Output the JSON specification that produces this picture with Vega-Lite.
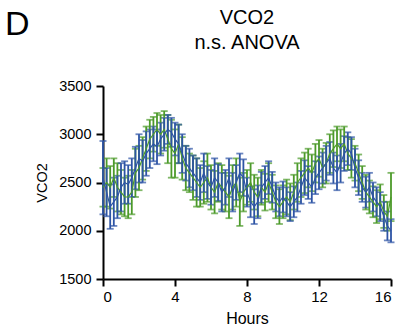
{
  "$schema": "https://vega.github.io/schema/vega-lite/v6.json",
  "width": 288,
  "height": 193,
  "autosize": {"type": "none"},
  "padding": {"left": 103, "top": 86, "right": 11, "bottom": 50},
  "background": "white",
  "title": {"text": ["VCO2", "n.s. ANOVA"], "anchor": "middle", "font": "Liberation Sans", "fontSize": 20, "fontWeight": "normal", "lineHeight": 25, "color": "black", "offset": -45},
  "config": {
    "view": {"stroke": null},
    "axis": {"domainColor": "black", "domainWidth": 2, "tickColor": "black", "tickWidth": 2, "tickSize": 7, "grid": false, "labelFont": "Liberation Sans", "labelFontSize": 14.5, "labelColor": "black", "titleFont": "Liberation Sans", "titleFontSize": 15, "titleFontWeight": "normal", "titleColor": "black"}
  },
  "data": {"values": [
    {"h":0,"g":"G","m":2450,"e":200},{"h":0.2,"g":"G","m":2500,"e":250},{"h":0.4,"g":"G","m":2450,"e":220},{"h":0.6,"g":"G","m":2550,"e":200},{"h":0.8,"g":"G","m":2450,"e":250},
    {"h":1,"g":"G","m":2400,"e":230},{"h":1.2,"g":"G","m":2350,"e":200},{"h":1.4,"g":"G","m":2350,"e":220},{"h":1.6,"g":"G","m":2400,"e":230},{"h":1.8,"g":"G","m":2600,"e":250},
    {"h":2,"g":"G","m":2650,"e":230},{"h":2.2,"g":"G","m":2750,"e":220},{"h":2.4,"g":"G","m":2850,"e":230},{"h":2.6,"g":"G","m":2950,"e":200},{"h":2.8,"g":"G","m":3000,"e":180},
    {"h":3,"g":"G","m":3050,"e":170},{"h":3.2,"g":"G","m":3000,"e":200},{"h":3.4,"g":"G","m":3050,"e":190},{"h":3.6,"g":"G","m":2950,"e":250},{"h":3.8,"g":"G","m":2850,"e":300},
    {"h":4,"g":"G","m":2800,"e":250},{"h":4.2,"g":"G","m":2900,"e":200},{"h":4.4,"g":"G","m":2750,"e":220},{"h":4.6,"g":"G","m":2650,"e":230},{"h":4.8,"g":"G","m":2600,"e":200},
    {"h":5,"g":"G","m":2550,"e":230},{"h":5.2,"g":"G","m":2500,"e":250},{"h":5.4,"g":"G","m":2450,"e":200},{"h":5.6,"g":"G","m":2500,"e":220},{"h":5.8,"g":"G","m":2550,"e":250},
    {"h":6,"g":"G","m":2450,"e":230},{"h":6.2,"g":"G","m":2400,"e":220},{"h":6.4,"g":"G","m":2500,"e":200},{"h":6.6,"g":"G","m":2450,"e":230},{"h":6.8,"g":"G","m":2400,"e":200},
    {"h":7,"g":"G","m":2350,"e":220},{"h":7.2,"g":"G","m":2450,"e":230},{"h":7.4,"g":"G","m":2500,"e":250},{"h":7.6,"g":"G","m":2300,"e":250},{"h":7.8,"g":"G","m":2400,"e":200},
    {"h":8,"g":"G","m":2450,"e":180},{"h":8.2,"g":"G","m":2500,"e":200},{"h":8.4,"g":"G","m":2400,"e":180},{"h":8.6,"g":"G","m":2350,"e":200},{"h":8.8,"g":"G","m":2450,"e":180},
    {"h":9,"g":"G","m":2400,"e":190},{"h":9.2,"g":"G","m":2500,"e":200},{"h":9.4,"g":"G","m":2400,"e":180},{"h":9.6,"g":"G","m":2300,"e":170},{"h":9.8,"g":"G","m":2250,"e":180},
    {"h":10,"g":"G","m":2300,"e":170},{"h":10.2,"g":"G","m":2350,"e":180},{"h":10.4,"g":"G","m":2300,"e":190},{"h":10.6,"g":"G","m":2400,"e":180},{"h":10.8,"g":"G","m":2500,"e":200},
    {"h":11,"g":"G","m":2550,"e":200},{"h":11.2,"g":"G","m":2600,"e":210},{"h":11.4,"g":"G","m":2650,"e":200},{"h":11.6,"g":"G","m":2600,"e":190},{"h":11.8,"g":"G","m":2700,"e":200},
    {"h":12,"g":"G","m":2750,"e":190},{"h":12.2,"g":"G","m":2650,"e":200},{"h":12.4,"g":"G","m":2700,"e":210},{"h":12.6,"g":"G","m":2800,"e":200},{"h":12.8,"g":"G","m":2850,"e":190},
    {"h":13,"g":"G","m":2900,"e":180},{"h":13.2,"g":"G","m":2850,"e":200},{"h":13.4,"g":"G","m":2900,"e":180},{"h":13.6,"g":"G","m":2800,"e":170},{"h":13.8,"g":"G","m":2750,"e":200},
    {"h":14,"g":"G","m":2700,"e":180},{"h":14.2,"g":"G","m":2600,"e":190},{"h":14.4,"g":"G","m":2500,"e":170},{"h":14.6,"g":"G","m":2400,"e":180},{"h":14.8,"g":"G","m":2350,"e":170},
    {"h":15,"g":"G","m":2300,"e":160},{"h":15.2,"g":"G","m":2250,"e":170},{"h":15.4,"g":"G","m":2300,"e":180},{"h":15.6,"g":"G","m":2200,"e":170},{"h":15.8,"g":"G","m":2150,"e":150},
    {"h":16,"g":"G","m":2350,"e":250},
    {"h":0,"g":"B","m":2550,"e":380},{"h":0.2,"g":"B","m":2400,"e":250},{"h":0.4,"g":"B","m":2250,"e":230},{"h":0.6,"g":"B","m":2300,"e":250},{"h":0.8,"g":"B","m":2350,"e":220},
    {"h":1,"g":"B","m":2450,"e":250},{"h":1.2,"g":"B","m":2500,"e":220},{"h":1.4,"g":"B","m":2480,"e":200},{"h":1.6,"g":"B","m":2550,"e":200},{"h":1.8,"g":"B","m":2650,"e":220},
    {"h":2,"g":"B","m":2750,"e":250},{"h":2.2,"g":"B","m":2720,"e":220},{"h":2.4,"g":"B","m":2800,"e":230},{"h":2.6,"g":"B","m":2850,"e":200},{"h":2.8,"g":"B","m":2900,"e":180},
    {"h":3,"g":"B","m":2870,"e":180},{"h":3.2,"g":"B","m":2950,"e":170},{"h":3.4,"g":"B","m":3000,"e":170},{"h":3.6,"g":"B","m":3050,"e":150},{"h":3.8,"g":"B","m":3020,"e":150},
    {"h":4,"g":"B","m":2950,"e":170},{"h":4.2,"g":"B","m":2900,"e":200},{"h":4.4,"g":"B","m":2800,"e":200},{"h":4.6,"g":"B","m":2700,"e":180},{"h":4.8,"g":"B","m":2650,"e":200},
    {"h":5,"g":"B","m":2600,"e":180},{"h":5.2,"g":"B","m":2550,"e":200},{"h":5.4,"g":"B","m":2500,"e":180},{"h":5.6,"g":"B","m":2600,"e":200},{"h":5.8,"g":"B","m":2500,"e":170},
    {"h":6,"g":"B","m":2450,"e":180},{"h":6.2,"g":"B","m":2550,"e":200},{"h":6.4,"g":"B","m":2500,"e":190},{"h":6.6,"g":"B","m":2400,"e":200},{"h":6.8,"g":"B","m":2450,"e":180},
    {"h":7,"g":"B","m":2550,"e":200},{"h":7.2,"g":"B","m":2400,"e":200},{"h":7.4,"g":"B","m":2500,"e":180},{"h":7.6,"g":"B","m":2600,"e":200},{"h":7.8,"g":"B","m":2550,"e":190},
    {"h":8,"g":"B","m":2400,"e":150},{"h":8.2,"g":"B","m":2300,"e":160},{"h":8.4,"g":"B","m":2250,"e":180},{"h":8.6,"g":"B","m":2300,"e":170},{"h":8.8,"g":"B","m":2450,"e":160},
    {"h":9,"g":"B","m":2500,"e":170},{"h":9.2,"g":"B","m":2550,"e":170},{"h":9.4,"g":"B","m":2450,"e":160},{"h":9.6,"g":"B","m":2350,"e":150},{"h":9.8,"g":"B","m":2300,"e":150},
    {"h":10,"g":"B","m":2350,"e":160},{"h":10.2,"g":"B","m":2300,"e":150},{"h":10.4,"g":"B","m":2250,"e":150},{"h":10.6,"g":"B","m":2300,"e":160},{"h":10.8,"g":"B","m":2350,"e":150},
    {"h":11,"g":"B","m":2450,"e":170},{"h":11.2,"g":"B","m":2550,"e":180},{"h":11.4,"g":"B","m":2500,"e":170},{"h":11.6,"g":"B","m":2450,"e":160},{"h":11.8,"g":"B","m":2550,"e":170},
    {"h":12,"g":"B","m":2600,"e":170},{"h":12.2,"g":"B","m":2650,"e":160},{"h":12.4,"g":"B","m":2700,"e":180},{"h":12.6,"g":"B","m":2750,"e":170},{"h":12.8,"g":"B","m":2650,"e":160},
    {"h":13,"g":"B","m":2600,"e":180},{"h":13.2,"g":"B","m":2700,"e":200},{"h":13.4,"g":"B","m":2800,"e":180},{"h":13.6,"g":"B","m":2850,"e":170},{"h":13.8,"g":"B","m":2800,"e":170},
    {"h":14,"g":"B","m":2650,"e":200},{"h":14.2,"g":"B","m":2550,"e":180},{"h":14.4,"g":"B","m":2450,"e":150},{"h":14.6,"g":"B","m":2400,"e":160},{"h":14.8,"g":"B","m":2450,"e":150},
    {"h":15,"g":"B","m":2350,"e":150},{"h":15.2,"g":"B","m":2300,"e":150},{"h":15.4,"g":"B","m":2250,"e":150},{"h":15.6,"g":"B","m":2150,"e":150},{"h":15.8,"g":"B","m":2050,"e":150},
    {"h":16,"g":"B","m":2000,"e":120}
  ]},
  "layer": [
    {
      "mark": {"type": "errorbar", "ticks": true, "size": 7, "thickness": 1.8},
      "encoding": {
        "x": {"field": "h", "type": "quantitative", "scale": {"domain": [0, 16], "nice": false}, "axis": {"values": [0, 4, 8, 12, 16], "format": "d", "title": "Hours", "titleFontSize": 16, "labelFontSize": 15, "labelPadding": 3, "titlePadding": 6}},
        "y": {"field": "m", "type": "quantitative", "scale": {"domain": [1500, 3500], "nice": false, "zero": false}, "axis": {"values": [1500, 2000, 2500, 3000, 3500], "format": "d", "title": "VCO2", "titleFontSize": 14.5, "labelPadding": 5, "titlePadding": 9}},
        "yError": {"field": "e"},
        "color": {"field": "g", "type": "nominal", "scale": {"domain": ["G", "B"], "range": ["#4C9A2A", "#2D54A5"]}, "legend": null}
      }
    },
    {
      "mark": {"type": "line", "strokeWidth": 1.2},
      "encoding": {
        "x": {"field": "h", "type": "quantitative"},
        "y": {"field": "m", "type": "quantitative"},
        "color": {"field": "g", "type": "nominal", "legend": null}
      }
    },
    {
      "data": {"values": [{"label": "D"}]},
      "mark": {"type": "text", "font": "Liberation Sans", "fontSize": 34, "fontWeight": "normal", "align": "left", "baseline": "alphabetic", "color": "black", "clip": false},
      "encoding": {
        "text": {"field": "label", "type": "nominal"},
        "x": {"datum": -5.45, "type": "quantitative"},
        "y": {"datum": 4030, "type": "quantitative"}
      }
    }
  ]
}
